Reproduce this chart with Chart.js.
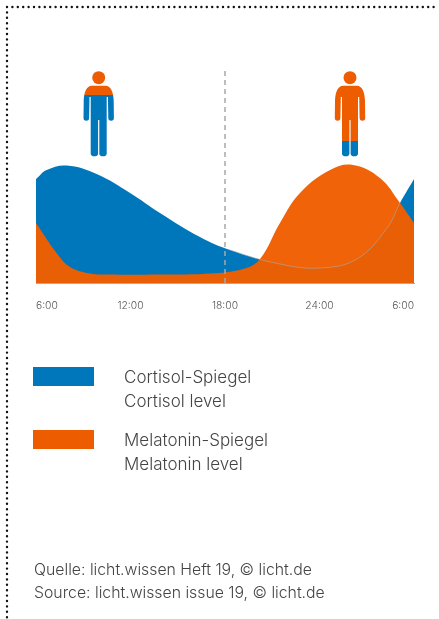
<!DOCTYPE html>
<html>
<head>
<meta charset="utf-8">
<title>Cortisol / Melatonin</title>
<script src="https://cdn.jsdelivr.net/npm/chart.js@4"></script>
<style>
  html, body { margin: 0; padding: 0; background: #fff; }
  body { position: relative; width: 439px; height: 619px; overflow: hidden; font-family: Inter, "Liberation Sans", sans-serif; font-weight: 300; color: #444; }
  #frame, #people { position: absolute; left: 0; top: 0; }
  canvas { position: absolute; left: 0; top: 0; }
  .swatch { position: absolute; left: 33px; width: 61px; height: 19px; }
  .txt { position: absolute; left: 124px; font-size: 17px; line-height: 24px; white-space: nowrap; }
  #source { position: absolute; left: 34px; top: 558px; font-size: 15.8px; line-height: 23px; white-space: nowrap; }
</style>
</head>
<body>
<svg id="frame" width="439" height="619">
  <path d="M7 7H439M7 7V619" fill="none" stroke="#111" stroke-width="2.4" stroke-linecap="round" stroke-dasharray="0 5.4"/>
</svg>
<canvas id="rhythmChart" width="439" height="320"></canvas>
<svg id="people" width="439" height="619">
  <defs>
    <path id="body" d="M-7 85.7H7C12 85.7 14.8 92 15 101L15.2 118a2.8 2.8 0 0 1-5.6 0L9.2 97H8V154a3.75 2.8 0 0 1-7.4 0V120H-.6V154a3.75 2.8 0 0 1-7.4 0V97H-9.2L-9.6 118a2.8 2.8 0 0 1-5.6 0L-15 101C-14.8 92-12 85.7-7 85.7Z"/>
    <clipPath id="bodyClip"><use href="#body"/></clipPath>
  </defs>
  <g transform="translate(98.7 0)">
    <circle cy="77.7" r="6.5" fill="#ee5c00"/>
    <g clip-path="url(#bodyClip)">
      <rect x="-16" y="85" width="32" height="10" fill="#ee5c00"/>
      <rect x="-16" y="95" width="32" height="63" fill="#0077bb"/>
    </g>
  </g>
  <g transform="translate(350 0)">
    <circle cy="77.7" r="6.5" fill="#ee5c00"/>
    <g clip-path="url(#bodyClip)">
      <rect x="-16" y="85" width="32" height="56" fill="#ee5c00"/>
      <rect x="-16" y="141" width="32" height="17" fill="#0077bb"/>
    </g>
  </g>
</svg>
<div class="swatch" style="top:367px;background:#0077bb"></div>
<div class="txt" style="top:365px">Cortisol-Spiegel<br>Cortisol level</div>
<div class="swatch" style="top:430px;background:#ee5c00"></div>
<div class="txt" style="top:428px">Melatonin-Spiegel<br>Melatonin level</div>
<div id="source">Quelle: licht.wissen Heft 19, © licht.de<br>Source: licht.wissen issue 19, © licht.de</div>

<script>
// hours after midnight, 30 = 6:00 next morning
const cortisolHours = [6, 6.68, 7.95, 9.85, 11.97, 13.87, 16.41, 18.32, 21.49, 24.03, 26.38, 28.29, 29.11, 30];
const cortisolValues = [104, 113, 117.5, 109, 90, 70, 46, 33, 19, 15, 24, 55, 80, 104];

const melatoninHours = [6, 7.31, 8.16, 9.43, 10.49, 14, 17, 19.14, 20.22, 21.49, 22.76, 24.67, 26.13, 27.84, 29.11, 30];
const melatoninValues = [60, 30, 16, 9.5, 8.5, 8.5, 9.5, 14, 24, 60, 90, 113, 118, 105, 80, 60];

const timeTicks = { 6: '6:00', 12: '12:00', 18: '18:00', 24: '24:00', 30: '6:00' };
const markerHour = 18;

const toPoints = (xs, ys) => xs.map((x, i) => ({ x: x, y: ys[i] }));

// cortisol curve is only visible as a thin trace where melatonin covers it
const melatoninAt = h => {
    let i = melatoninHours.findIndex(m => m >= h);
    if (i <= 0) return melatoninValues[0];
    const t = (h - melatoninHours[i - 1]) / (melatoninHours[i] - melatoninHours[i - 1]);
    return melatoninValues[i - 1] + t * (melatoninValues[i] - melatoninValues[i - 1]);
};

const ctx = document.getElementById('rhythmChart').getContext('2d');
const rhythmChart = new Chart(ctx, {
    type: 'line',
    data: {
        datasets: [
            {
                label: 'Marker',
                data: toPoints([markerHour, markerHour], [0, 212]),
                borderColor: '#a8a8a8',
                borderWidth: 1.5,
                borderDash: [5, 4],
                pointRadius: 0,
                order: 0
            },
            {
                label: 'Cortisol trace',
                data: toPoints(cortisolHours, cortisolValues),
                borderWidth: 1,
                borderColor: 'rgba(170,170,170,0)',
                tension: 0.4,
                pointRadius: 0,
                segment: {
                    borderColor: c => melatoninAt(c.p1.parsed.x) > c.p1.parsed.y - 0.5 && c.p0.parsed.x > 18 && c.p1.parsed.x < 29.5
                        ? 'rgba(170,170,170,0.6)' : 'rgba(170,170,170,0)'
                },
                order: 1
            },
            {
                label: 'Melatonin',
                data: toPoints(melatoninHours, melatoninValues),
                backgroundColor: 'rgba(240,94,0,0.97)',
                borderWidth: 0,
                fill: 'origin',
                tension: 0.4,
                pointRadius: 0,
                order: 2
            },
            {
                label: 'Cortisol',
                data: toPoints(cortisolHours, cortisolValues),
                backgroundColor: '#0077bb',
                borderWidth: 0,
                fill: 'origin',
                tension: 0.4,
                pointRadius: 0,
                order: 3
            }
        ]
    },
    options: {
        responsive: false,
        animation: false,
        layout: { padding: { left: 36, right: 25, top: 71, bottom: 0 } },
        plugins: { legend: { display: false }, tooltip: { enabled: false } },
        scales: {
            x: {
                type: 'linear',
                min: 6,
                max: 30,
                afterFit: scale => { scale.height = 37; },
                grid: { display: false },
                border: { color: '#aaa', width: 1 },
                ticks: {
                    stepSize: 6,
                    align: 'inner',
                    maxRotation: 0,
                    padding: 9,
                    color: '#555',
                    font: { family: 'Inter, "Liberation Sans", sans-serif', size: 10.3, weight: '300' },
                    callback: v => timeTicks[v]
                }
            },
            y: { display: false, min: 0, max: 212 }
        }
    }
});
</script>
</body>
</html>
